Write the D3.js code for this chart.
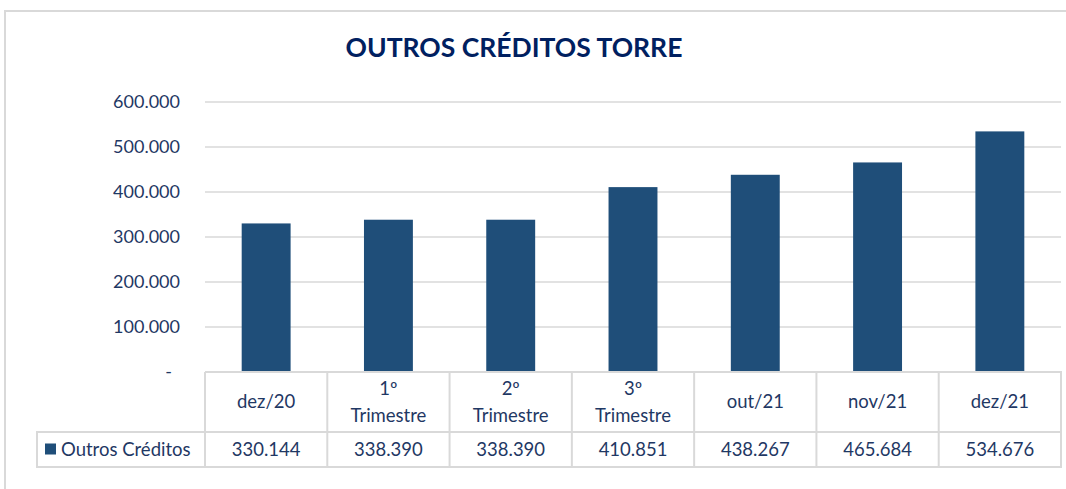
<!DOCTYPE html>
<html>
<head>
<meta charset="utf-8">
<script src="https://cdn.jsdelivr.net/npm/d3@7"></script>
<style>
  body { margin: 0; background: #fff; }
  svg { display: block; font-family: Lato, "Open Sans", sans-serif; }
</style>
</head>
<body>
<svg id="chart" width="1066" height="489" viewBox="0 0 1066 489"></svg>
<script>
// data
const categories = [["dez/20"], ["1º", "Trimestre"], ["2º", "Trimestre"], ["3º", "Trimestre"], ["out/21"], ["nov/21"], ["dez/21"]];
const values = [330144, 338390, 338390, 410851, 438267, 465684, 534676];
const yTicks = [0, 100000, 200000, 300000, 400000, 500000, 600000];
const seriesName = "Outros Créditos";
const title = "OUTROS CRÉDITOS TORRE";

const BAR = "#1f4e79";
const TXT = "#1f3864";
const GRID = "#d9d9d9";
const FS = 18.5;

const svg = d3.select("#chart");
const plotL = 205, plotR = 1061, plotT = 102, base = 372;
const rowH1 = 60, rowH2 = 35;

// outer frame (only top and left edges visible)
svg.append("path")
  .attr("d", "M5,489 V11 H1066")
  .attr("fill", "none")
  .attr("stroke", GRID)
  .attr("stroke-width", 2);

svg.append("text")
  .attr("x", 514)
  .attr("y", 57)
  .attr("text-anchor", "middle")
  .attr("font-size", 26.5)
  .attr("font-weight", 700)
  .attr("fill", "#002060")
  .text(title);

const idx = categories.map((c, i) => i);
const xS = d3.scaleBand().domain(idx).range([plotL, plotR]).paddingInner(0.6).paddingOuter(0.3);
const yS = d3.scaleLinear().domain([0, 600000]).range([base, plotT]);
const step = (plotR - plotL) / categories.length;

// gridlines
svg.append("g").selectAll("line").data(yTicks.filter((d) => d > 0)).join("line")
  .attr("x1", plotL).attr("x2", plotR)
  .attr("y1", (d) => yS(d)).attr("y2", (d) => yS(d))
  .attr("stroke", GRID).attr("stroke-width", 1.5);

// y tick labels
const fmt = (d) => (d === 0 ? "-" : d3.format(",")(d).replace(/,/g, "."));
svg.append("g").selectAll("text").data(yTicks).join("text")
  .attr("x", (d) => (d === 0 ? 172 : 180))
  .attr("y", (d) => yS(d))
  .attr("dy", "0.35em")
  .attr("text-anchor", "end")
  .attr("font-size", 18)
  .attr("fill", TXT)
  .text(fmt);

// bars
svg.append("g").selectAll("rect").data(values).join("rect")
  .attr("x", (d, i) => xS(i))
  .attr("width", xS.bandwidth())
  .attr("y", (d) => yS(d))
  .attr("height", (d) => base - yS(d))
  .attr("fill", BAR);

// data table
const tbl = svg.append("g")
  .attr("fill", "none")
  .attr("stroke", GRID)
  .attr("stroke-width", 2);
tbl.append("path")
  .attr("d", `M${plotL},${base} H${plotR} V${base + rowH1 + rowH2} H37 V${base + rowH1} H${plotR}`);
d3.range(categories.length).forEach((i) => {
  const x = plotL + i * step;
  tbl.append("line").attr("x1", x).attr("x2", x).attr("y1", base).attr("y2", base + rowH1 + rowH2);
});

const cat = svg.append("g").attr("font-size", FS).attr("fill", TXT).attr("text-anchor", "middle");
categories.forEach((lines, i) => {
  const cx = plotL + (i + 0.5) * step;
  const cy = base + rowH1 / 2;
  lines.forEach((t, j) => {
    cat.append("text")
      .attr("x", cx)
      .attr("y", cy + (j - (lines.length - 1) / 2) * 27)
      .attr("dy", "0.35em")
      .text(t);
  });
});

const vy = base + rowH1 + rowH2 / 2;
svg.append("g").selectAll("text").data(values).join("text")
  .attr("x", (d, i) => plotL + (i + 0.5) * step)
  .attr("y", vy)
  .attr("dy", "0.35em")
  .attr("text-anchor", "middle")
  .attr("font-size", FS)
  .attr("fill", TXT)
  .text((d) => d3.format(",")(d).replace(/,/g, "."));

// legend key in table
svg.append("rect")
  .attr("x", 45).attr("y", vy - 6)
  .attr("width", 11).attr("height", 11)
  .attr("fill", BAR);
svg.append("text")
  .attr("x", 61).attr("y", vy)
  .attr("dy", "0.35em")
  .attr("font-size", FS)
  .attr("fill", TXT)
  .text(seriesName);
</script>
</body>
</html>
